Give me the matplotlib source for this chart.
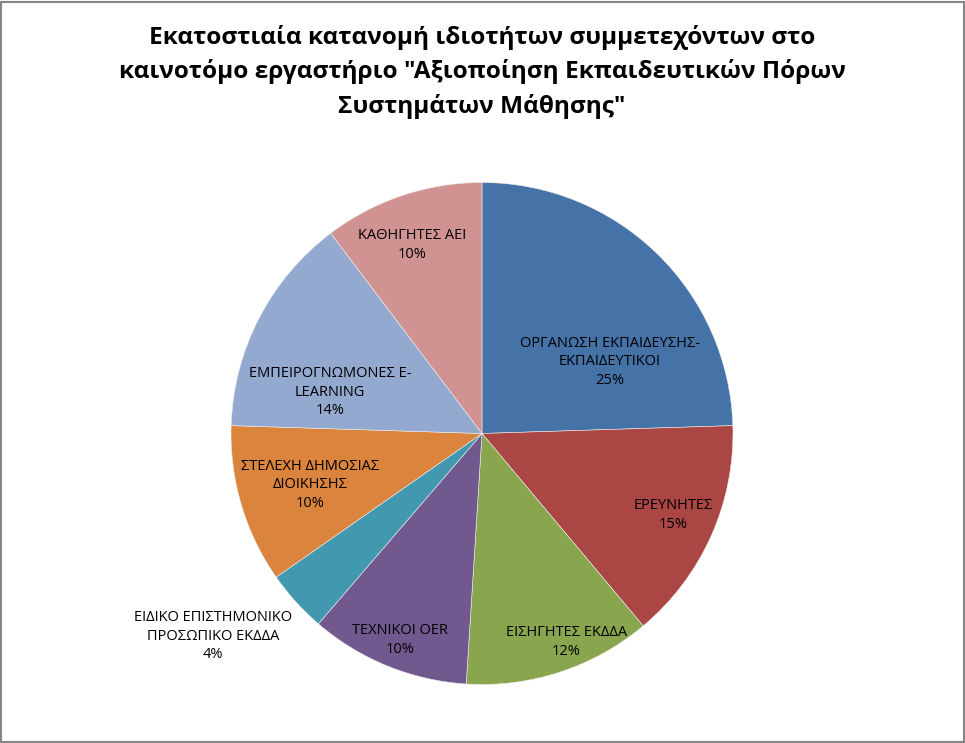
import matplotlib
matplotlib.use("Agg")
import matplotlib.pyplot as plt
from matplotlib.patches import Rectangle

categories = [
    "ΟΡΓΑΝΩΣΗ ΕΚΠΑΙΔΕΥΣΗΣ-\nΕΚΠΑΙΔΕΥΤΙΚΟΙ",
    "ΕΡΕΥΝΗΤΕΣ",
    "ΕΙΣΗΓΗΤΕΣ ΕΚΔΔΑ",
    "ΤΕΧΝΙΚΟΙ OER",
    "ΕΙΔΙΚΟ ΕΠΙΣΤΗΜΟΝΙΚΟ\nΠΡΟΣΩΠΙΚΟ ΕΚΔΔΑ",
    "ΣΤΕΛΕΧΗ ΔΗΜΟΣΙΑΣ\nΔΙΟΙΚΗΣΗΣ",
    "ΕΜΠΕΙΡΟΓΝΩΜΟΝΕΣ E-\nLEARNING",
    "ΚΑΘΗΓΗΤΕΣ ΑΕΙ",
]
# slice sizes as read from the drawn wedges (percent)
shares = [24.5, 14.4, 12.1, 10.3, 4.0, 10.2, 14.2, 10.3]
# percentages as printed on the labels
pct_labels = ["25%", "15%", "12%", "10%", "4%", "10%", "14%", "10%"]

title = ('Εκατοστιαία κατανομή ιδιοτήτων συμμετεχόντων στο\n'
         'καινοτόμο εργαστήριο "Αξιοποίηση Εκπαιδευτικών Πόρων\n'
         'Συστημάτων Μάθησης"')

colors = ["#4572A7", "#AA4643", "#89A54E", "#71588F",
          "#4198AF", "#DB843D", "#93A9CF", "#D19392"]

# label positions (in units of pie radius), as placed by the original
label_pos = [(0.51, 0.285), (0.761, -0.325), (0.335, -0.831), (-0.327, -0.823),
             (-1.072, -0.807), (-0.685, -0.205), (-0.606, 0.165), (-0.279, 0.751)]

W, H = 965, 743
fig = plt.figure(figsize=(W / 100, H / 100), dpi=100)
fig.patch.set_facecolor("white")

cx, cy, r = 482, 743 - 433.5, 251
lim = 1.2
half = r * lim
ax = fig.add_axes([(cx - half) / W, (cy - half) / H, 2 * half / W, 2 * half / H])

ax.pie(shares, colors=colors, startangle=90, counterclock=False,
       radius=1.0, center=(0, 0), frame=True,
       wedgeprops=dict(edgecolor="#eeeeee", linewidth=0.4))
ax.set_xlim(-lim, lim)
ax.set_ylim(-lim, lim)
ax.set_aspect("equal")
ax.axis("off")

font = "Open Sans"
for cat, pct, (lx, ly) in zip(categories, pct_labels, label_pos):
    ax.text(lx, ly, f"{cat}\n{pct}", ha="center", va="center",
            fontsize=10.5, family=font, color="#000000", linespacing=1.3,
            clip_on=False)

fig.text(482 / W, 1 - 72 / H, title, ha="center", va="center",
         fontsize=17.6, fontweight="bold", family=font, linespacing=1.5)

fig.patches.append(Rectangle((0.5 / W, 1.5 / H), (W - 2) / W, (H - 3) / H,
                             transform=fig.transFigure, fill=False,
                             edgecolor="#868686", linewidth=1.5))

fig.savefig("out.png", dpi=100)
